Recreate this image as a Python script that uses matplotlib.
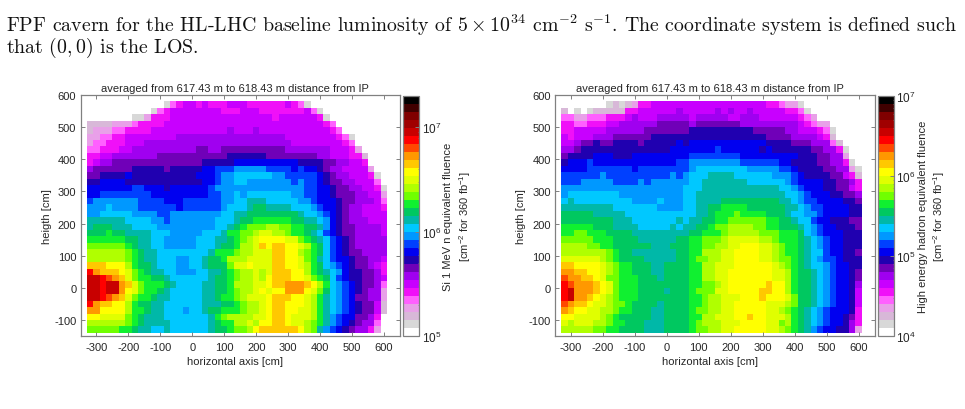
import matplotlib
matplotlib.use("Agg")
import matplotlib.pyplot as plt
import numpy as np
from matplotlib.colors import ListedColormap, LogNorm
from matplotlib.ticker import LogLocator, NullFormatter

# colour band index of every 20x20 cm bin, top row first, base 30 digits
si_bands = [
    "000000000000 145 66 5 6 555 666 555555 6 5 4 1 000000000000",
    "0000000000 1 4 5 66666666 555 666 5555555 6 4 1 0000000000",
    "0000000 11 3 555 6666666666666666 5 66666 6 5 1 000000000",
    "2222 333 4 5555 6666666666666666666666666 5 4 00000000",
    "2 333 44 5555 666666666666 7 666 7 66666666666 5 4 0000000",
    "3 3 4 4 5 5 66666666 77777777777777777 66666666 5 4 1 00000",
    "344555 666 77777777777777777777777 66666666 5 4 00000",
    "44 555 66 7777777777 88 77 8888888888 7777777 666 5 3 0000",
    "55 66 7777777 88888888888 999999 88888888 77 666 55 2 000",
    "5 6 77 88888888888888 99999 aaaaaaaaaa 9999 88 77 66 5 000",
    "7 888888 99999 8 99999 aa bbb ccccc bbbb a b aa 9 8 77 6666 3 00",
    "88 9999 a 9999999999 aaa b cc dddddd cc bbbbb a 9 8 77 666 5 1 0",
    "99 aaaa 999999999999 aa b cc dd ccccccc b c bb a 9 88 77 666 4 0",
    "aaaaaaa bb aaa 9 aaaaaa b cccccccccccccc bb aa 9 88 77 66 5 1",
    "aa bbbbbbbb aaaaaaaaa bb cc d c ddddddd cc bb aa 9 888 77 66 3",
    "b ccccccc bbbb aaa bbbbbb cc dd eee ddddd cc b aa a 9 88 777 6 4",
    "ccc d cccc bbbbbb a bbbbbb c ddd e ff eeee ddd c b aa 9 8 77 666 5",
    "cc ddddd cccc bb cccccccc dd ee ffffffff e dd c b a 9 8 77 6666",
    "eeeeee dddd cc b ccccccc ddd e ff gggggg ff ee d c a 9 8 777 666",
    "e fff eee ddd d cc ccc cccc dd e f g hhh ii hh gg ff e c a 9 88 7777 6",
    "fff g ff eee e ddd cccc c ddd e gg hh i jj ii h gg f e d b a 9 88 7777 6",
    "gggggg ff ee dd ccccc ddd ee f g h i j kkkk jj h g f e d b a 9 8 77777",
    "hhhhhh g f ee dd cccc c dd d e ff g ii j l k ll kk j i g f d b a 9 8 77777",
    "iiiiii h g f ee d ddddddd e ggg h ii jj j ll kk i h g f d b a 9 88 7777",
    "iiiiii h g f ee ddd cc dd e ff g iii j jjj ll kk j h g e d b a a 9 88 77 6",
    "lll kkk i g f f e ddd cc dd e fff h jj k jjj ll kk j i g f d c b a 9 88 7 6 5",
    "o m lll k j h g f ee dd ccc dd ee f g h ii j i j lll kk i g f e d c a 9 9 88 7 5",
    "p p o n m l j h g g f f e ddddd d e ff g h ii j i k lll kk j h g f d b a 99 88 7 6",
    "pp o pp m l j h gg g f e dddd ee ff g i ii j j k ll mmm l k i g d c b a 9 88 7 4",
    "pp o pp m k j h gg f e ddddd ee ff g h ii j k j kk mmm k j h f d c b a 9 8 7 7 3",
    "p p o n m l j h g g f e e ddddd ee f gg h i j j j k lll kk j i g e d c b a 88 77 3",
    "o m l l k k i g f f e e dddddd ee e f f g h i i j k l l k kk j i g e d c b a 9 88 6 2",
    "mm kkkk i gg f ee ddd c dd e ff g gg h ii j k ll kk jj i g e d c b a 9 88 6 2",
    "kk jjjj h g f eee d dddddd e g h iii i j j k ll k jjj i g e c b a a 88 7 5 0",
    "iiiiii h g f eee e dddddd e f gg ii j i kk ll k jj i h g e c b a 9 8 77 4 0",
    "hhhhh gg f ee dd e dddddd e ff g hh i k llllll k i h e c b a 9 8 77 5 3 0",
]

hadron_bands = [
    "0000000 1 2 1 2 3 5 5 666666666666666666 55 4 33 1 000000000",
    "2 0 1 0 1 22222 55 666666 7 66666 7 6 7 66 7 66666 55 4 1 00000000",
    "44 33 444 55 5 6 7 666 77777 6 77777 66 777 666666 5 4 3 0000000",
    "55 44 555 66 777777 88888 7 8888888 777777777 6 5 4 33 00000",
    "55 66 666 777777 8888888 9999999999 88888 77 666 5 4 1 0000",
    "6 5 666 777 888888 999999999999999999 8888 7777 6 5 2 0000",
    "66 7 88 9 88 9999 8 99999 a 9 aaaaaaaaaa aa 9999 888 777 4 2 000",
    "77 8 99999999999999 aaaaaaa b aaaaaa 9 a 999999 88 77 5 1 00",
    "8 9999 aaa 999 aaaaaaaaa bbbbbbbb aaaaaaaaa 999 88 77 3 00",
    "9 aaa b aaaaaa aaaaaaa bb c ccccccc bbbbbb aa 9999 88 77 5 1 0",
    "aaaa bbbbbbb a bbbbbbbb c dddddddd ccccc bb a 9999 88 77 3 1",
    "bbbbbb c bbbbbbbbbb c b c d dd eeee dddddd ccc b a 9999 88 6 5 2",
    "bbb ccccc bbbb c b c ccccc dd eeeeeee dddddd c b a a aa 99 88 7 5 4",
    "ccccccccc cccccccccc dd d eeeeeeeeeeee dd c b a aa 99 88 6 5",
    "c dddddddd cccccccccc dd eeeeeeeeeeeeee dd c b aaa 99 88 7",
    "d e ddddddddd cccc d ccc dd eeee fffffffff ee d c b b aa aa 9 9 8",
    "eeeeeeee ddddd dd ccc c d d ee ff gggg fffff f ee d c b b aa aa 99",
    "fffff eeeee dddddddd ddd ee f ggg h gggg fff e dd cc b aaa a 99",
    "ffffffff eee ddddd d d e d ee ff gg hhh hhh gg ff e d dbaa99988",
    "ggggg fff eeee ddddd e d e e ff g hh iiii h h gg ff f e dcbaa9998",
    "gg hh ggg ff ff eeeeeeeee f f gg g h iiii i h hh gg g f dcbaaa999",
    "hhhhh ggg ffff eeee ee ff gg hh h i jjjj j i i h g gg f edcbaa999",
    "iiii hh gg ffff ff eee f ff gg hh ii jj kkk jj i h gg f edcbaa999",
    "iiiiiii h g ff eeeeeee ff gg iii jj kkkk jj i h gg f eddbaa998",
    "jjjjjj i h g ffff eeeee ff g hh ii jj kkkk jj i hh g f edcbba999",
    "ll kkkk j i h gg fff ee ffff gg ii jj j kkkkkk j i h g f eddcbaa99",
    "mm ll kk j i h gg fff ee ffff gg ii jj kkkkkkk j j i g f fedcbaa98",
    "n mm l l k j hh ggg fff e ffff gg ii jj kkkkkkk j j i g f fedcbaa98",
    "o n mmm l k j h ggg ffffffff gg hh i j kkkkkk l kk i g f fedcbaa97",
    "o p mmm l k j h ggg ffff e fff g hhh jj kkkkk ll kk i g f fedcbaa96",
    "o p mm l k j i h ggg ffffffff gg h ii jjj kkk l kkk j h f fedcbaa96",
    "n m ll k jj i hh g ffff e ffff gg h ii jj kkkkk jjj i h f fedcbaa96",
    "m l kk jj ii h gg fff ee ffff g hh ii jj kkkkk jj i h g f edcbaaa95",
    "kk jjjj i h g fffff ee ffff gg ii jjj kk l kk jjj i g f edcbaa985",
    "j i jjj ii h gg fff eee ffff g h iii jjj kkkk jj h i g f edcbaa975",
    "iiiii hh gg ffff eee ffff g hh ii jj kkkkk jj i h g f ecbaa9973",
]

# colour scale of the two panels, lowest band first
band_colors = [
    "#ffffff", "#d8d8d8", "#d8b8d8", "#e8a0e8", "#ff60ff", "#f010f8",
    "#c800ff", "#a000f0", "#7000b8", "#2000b0", "#0000f0", "#0040ff",
    "#0098ff", "#00c8ff", "#00b8a8", "#00c860", "#10f030", "#70ff00",
    "#b0ff00", "#e0ff00", "#ffff00", "#ffc800", "#ff9800", "#ff4800",
    "#ff0000", "#c80000", "#a00000", "#800000", "#400000", "#000000",
]

si_range = (1e5, 2e7)
hadron_range = (1e4, 1e7)
si_ticks = [1e5, 1e6, 1e7]
hadron_ticks = [1e4, 1e5, 1e6, 1e7]
tick_positions = [-300, -200, -100, 0, 100, 200, 300, 400, 500, 600]
height_ticks = [-100, 0, 100, 200, 300, 400, 500, 600]

title_text = "averaged from 617.43 m to 618.43 m distance from IP"
si_label = "Si 1 MeV n equivalent fluence\n[cm$^{-2}$ for 360 fb$^{-1}$]"
hadron_label = "High energy hadron equivalent fluence\n[cm$^{-2}$ for 360 fb$^{-1}$]"

W, H = 965, 410
GRAY = "#808080"
TEXT = "#262626"

plt.rcParams["font.family"] = "Liberation Sans"
plt.rcParams["font.size"] = 8
plt.rcParams["mathtext.default"] = "regular"
plt.rcParams["axes.unicode_minus"] = False


def box(left, top, right, bottom):
    # pixel box to figure fractions
    return [left / W, 1 - bottom / H, (right - left) / W, (bottom - top) / H]


def band_values(rows, vrange):
    # band numbers to fluence at the middle of each band
    lo, hi = vrange
    n = len(band_colors)
    out = []
    for row in rows:
        row = "".join(row.split()).ljust(47, "0")[:47]
        out.append([lo * (hi / lo) ** ((int(c, 30) + 0.5) / n) for c in row])
    return np.array(out)


def panel(fig, left, rows, vrange, cticks, clabel):
    ax = fig.add_axes(box(left, 96, left + 319.5, 337))
    x_edges = np.arange(-330, 611, 20)
    y_edges = np.arange(580, -141, -20)
    cmap = ListedColormap(band_colors)
    norm = LogNorm(vmin=vrange[0], vmax=vrange[1])
    mesh = ax.pcolormesh(x_edges, y_edges, band_values(rows, vrange), cmap=cmap, norm=norm)
    ax.set_xlim(-350, 650)
    ax.set_ylim(-150, 600)
    ax.set_xticks(tick_positions)
    ax.set_yticks(height_ticks)
    ax.tick_params(direction="in", length=3, width=0.7, color=GRAY, labelcolor=TEXT,
                   top=True, right=True, pad=3)
    ax.tick_params(axis="x", pad=4)
    for s in ax.spines.values():
        s.set_color(GRAY)
        s.set_linewidth(0.9)
    ax.set_title(title_text, fontsize=8, color=TEXT, pad=3, x=0.484)
    ax.set_xlabel("horizontal axis [cm]", color=TEXT, labelpad=3.5, x=0.484)
    ax.set_ylabel("heigth [cm]", color=TEXT, labelpad=1.5)

    cax = fig.add_axes(box(left + 322.5, 97, left + 338.5, 337))
    cbar = fig.colorbar(mesh, cax=cax)
    cbar.set_ticks(cticks)
    cbar.set_ticklabels(["10$^{%d}$" % round(np.log10(t)) for t in cticks])
    cax.yaxis.set_minor_locator(LogLocator(base=10, subs=range(2, 10)))
    cax.yaxis.set_minor_formatter(NullFormatter())
    cax.tick_params(which="major", direction="in", length=3, width=0.7, color=GRAY,
                    labelcolor=TEXT, labelsize=8.5, pad=2)
    cax.tick_params(which="minor", direction="in", length=1, width=0.5, color=GRAY)
    cbar.outline.set_edgecolor(GRAY)
    cbar.outline.set_linewidth(0.9)
    fig.text((left + 377.5) / W, 1 - 217 / H, clabel, rotation=90, ha="center", va="center",
             color=TEXT, fontsize=8, linespacing=1.3)


fig = plt.figure(figsize=(W / 100, H / 100), dpi=100)
panel(fig, 80.5, si_bands, si_range, si_ticks, si_label)
panel(fig, 555, hadron_bands, hadron_range, hadron_ticks, hadron_label)

caption1 = (r"FPF cavern for the HL-LHC baseline luminosity of $5\times10^{34}$ cm$^{-2}$ s$^{-1}$."
            " The coordinate system is defined such")
caption2 = "that $(0,0)$ is the LOS."
fig.text(6 / W, 1 - 31.5 / H, caption1, family="cmr10", math_fontfamily="cm", fontsize=14.3, color="#111111")
fig.text(6 / W, 1 - 52.5 / H, caption2, family="cmr10", math_fontfamily="cm", fontsize=14.3, color="#111111")

fig.savefig("out.png", dpi=100)
